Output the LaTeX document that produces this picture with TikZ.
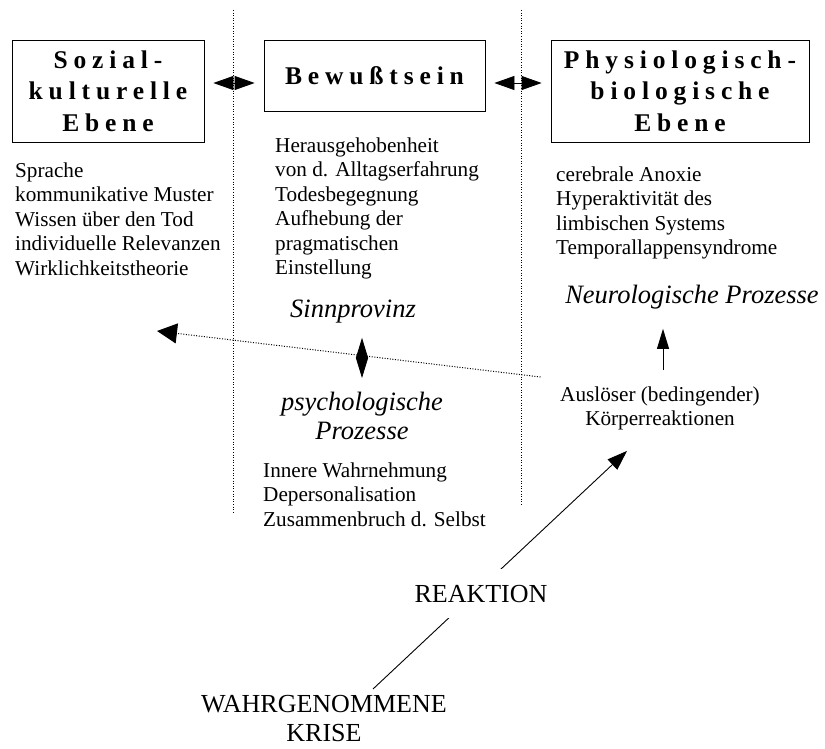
\documentclass[tikz,border=0pt]{standalone}
\usepackage{fontspec}
\setmainfont{Liberation Serif}
\newfontfamily\gesperrt[LetterSpace=23]{Liberation Serif}
\usetikzlibrary{arrows.meta}
\usetikzlibrary{calc}

\begin{document}
\begin{tikzpicture}[x=1pt, y=-1pt,
  ebene/.style={draw, line width=0.8pt, align=center, inner sep=0pt,
    font=\gesperrt\bfseries\fontsize{25.5}{31.5}\selectfont},
  liste/.style={anchor=north west, align=left, inner sep=0pt,
    font=\fontsize{21.2}{24.4}\selectfont},
  prozess/.style={align=center, inner sep=0pt,
    font=\itshape\fontsize{26.5}{29}\selectfont},
  gross/.style={align=center, inner sep=0pt,
    font=\fontsize{26}{29.5}\selectfont},
  trenn/.style={line width=1pt, dash pattern=on 1pt off 1.6pt},
  doppel/.style={line width=0.8pt,
    {Triangle[length=20pt,width=14pt]}-{Triangle[length=20pt,width=14pt]}},
  pfeil/.style={line width=0.9pt, -{Triangle[length=20pt,width=14pt]}}]

\useasboundingbox (0,0) rectangle (825,749);

% Trennlinien
\draw[trenn] (233,10) -- (233,513);
\draw[trenn] (521,10) -- (521,505);

% Ebenen
\node[ebene, minimum width=192pt, minimum height=102pt] (soz) at (108,91) {Sozial-\\kulturelle\\Ebene};
\node[ebene, minimum width=221pt, minimum height=71pt] (bew) at (374.5,75.5) {Bewußtsein};
\node[ebene, minimum width=258pt, minimum height=102pt] (phys) at (680,91) {Physiologisch-\\biologische\\Ebene};

\draw[doppel, shorten <=9pt, shorten >=9pt] ([yshift=8pt]soz.east) -- ([yshift=-7.5pt]bew.west);
\draw[doppel, shorten <=9pt, shorten >=9pt] ([yshift=-7.5pt]bew.east) -- ([yshift=8pt]phys.west);

\node[liste] (sozliste) at (15,162.5) {Sprache\\kommunikative Muster\\Wissen über den Tod\\individuelle Relevanzen\\Wirklichkeitstheorie};
\node[liste] (bewliste) at (275,137.5) {Herausgehobenheit\\von d. Alltagserfahrung\\Todesbegegnung\\Aufhebung der\\pragmatischen\\Einstellung};
\node[liste] (physliste) at (556,166.5) {cerebrale Anoxie\\Hyperaktivität des\\limbischen Systems\\Temporallappensyndrome};

% Prozesse
\node[prozess, anchor=base] (sinn) at (353,317) {Sinnprovinz};
\node[prozess, anchor=north] (psych) at (362,392) {psychologische\\Prozesse};
\node[liste] (psyliste) at (263,462.5) {Innere Wahrnehmung\\Depersonalisation\\Zusammenbruch d. Selbst};
\node[prozess, anchor=base] (neuro) at (692,303) {Neurologische Prozesse};
\node[liste, anchor=north, align=center] (aus) at (660,386.5) {Auslöser (bedingender)\\Körperreaktionen};

\draw[line width=0.8pt, {Triangle[length=20pt,width=12pt]}-{Triangle[length=20pt,width=12pt]},
  shorten <=15pt, shorten >=14pt] (psych.north |- sinn.south) -- (psych.north);
\draw[line width=0.9pt, -{Triangle[length=20pt,width=12pt]}, shorten <=16.5pt, shorten >=20pt]
  ([xshift=3pt]aus.north) -- ([xshift=3pt]aus.north |- neuro.south);
\coordinate (links) at (157,331);
\draw[trenn, -{Triangle[length=20pt,width=20pt]}] ([shift={(-19.5,-9.5)}]aus.north west) -- (links);

% Krise
\node[gross, anchor=north] (krise) at (324,695) {WAHRGENOMMENE\\KRISE};
\draw[pfeil] ([shift={(49,-6)}]krise.north) -- ([shift={(-33,20.4)}]aus.south);
\node[gross, anchor=base, fill=white, inner xsep=2pt, inner ysep=16pt] (reak) at (481,602) {REAKTION};

\end{tikzpicture}
\end{document}
